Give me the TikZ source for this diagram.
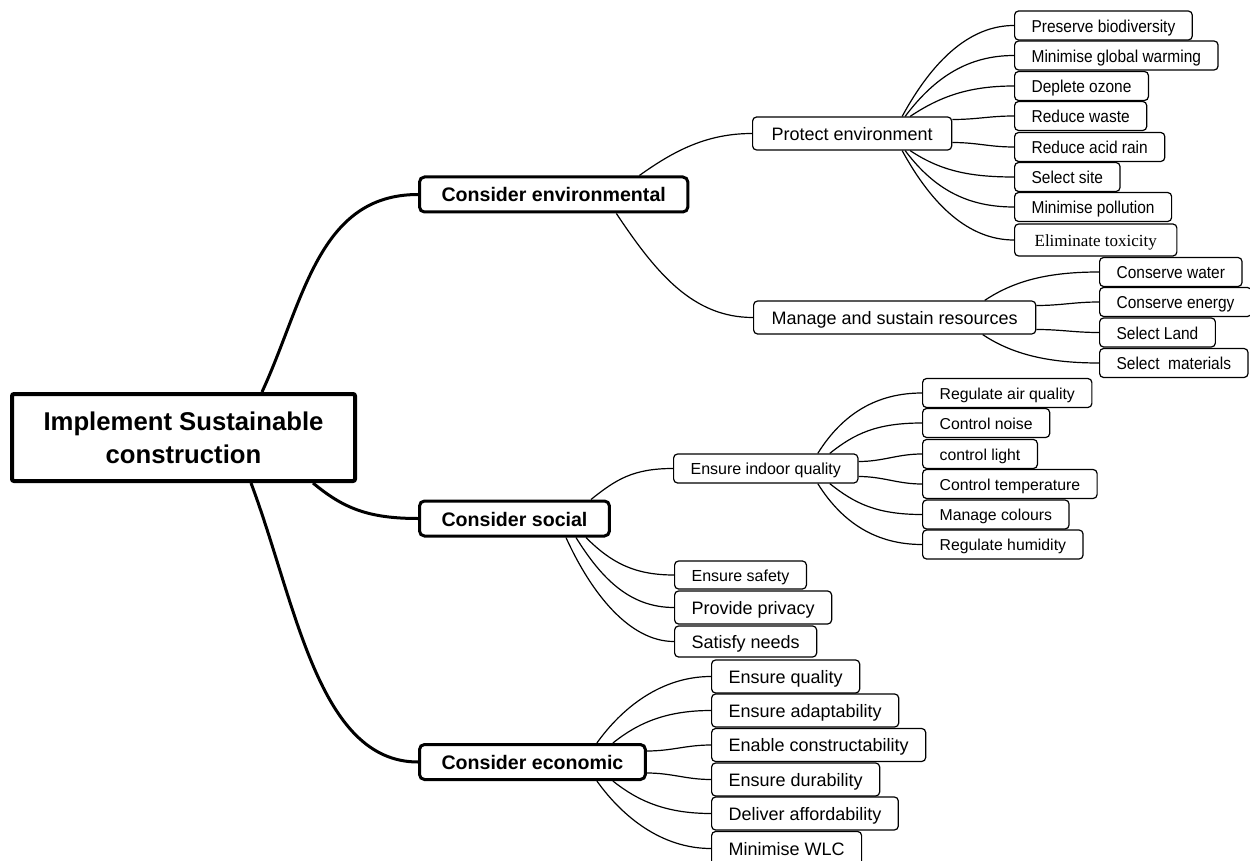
\documentclass[tikz,border=0pt]{standalone}
\usepackage{fontspec}
\setmainfont{Liberation Sans}
\newfontfamily\tnrfont{Liberation Serif}
\newfontfamily\condsans[FakeStretch=0.9]{Liberation Sans}
\usetikzlibrary{calc}
\begin{document}
\begin{tikzpicture}[x=1pt,y=-1pt,
  rootbox/.style={draw, line width=4pt, rounded corners=2pt, fill=white,
    font=\fontsize{25.7}{33}\selectfont\bfseries, align=center,
    minimum width=343pt, minimum height=87pt, inner sep=0pt},
  mainbox/.style={draw, line width=3pt, rounded corners=5pt, fill=white,
    font=\fontsize{19.6}{23}\selectfont\bfseries, anchor=west,
    minimum height=35pt, inner xsep=22pt, inner ysep=0pt,
    text height=15pt, text depth=0pt},
  subbox/.style={draw, line width=1.2pt, rounded corners=4pt, fill=white,
    anchor=west, inner xsep=17pt, inner ysep=0pt, minimum height=29pt,
    text depth=0pt},
  fa/.style={font=\condsans\fontsize{17.2}{20}\selectfont, text height=13.3pt},
  fi/.style={font=\fontsize{15.8}{19}\selectfont, text height=12.3pt},
  fb/.style={font=\fontsize{16}{19}\selectfont, text height=12.4pt},
  fc/.style={font=\fontsize{18}{21}\selectfont, text height=13.9pt},
  ft/.style={font=\tnrfont\fontsize{17}{20}\selectfont, text height=12.3pt},
  ea/.style={line width=3pt},
  eb/.style={line width=1.2pt}
]
\useasboundingbox (0,0) rectangle (1250,861);

% root and main branches
\node[rootbox] (root) at (183.5,437.5) {Implement Sustainable\\construction};
\node[mainbox] (env) at (418,194.5) {Consider environmental};
\node[mainbox] (soc) at (418,518.5) {Consider social};
\node[mainbox] (eco) at (418,762) {Consider economic};

% second level
\node[subbox, fc, minimum height=33pt, inner xsep=19pt] (pe) at (752,133.5) {Protect environment};
\node[subbox, fc, minimum height=33pt, inner xsep=18pt] (msr) at (753,317.5) {Manage and sustain resources};
\node[subbox, fb, inner xsep=17pt] (eiq) at (673,468.5) {Ensure indoor quality};

% environment leaves
\node[subbox, fa] (l1) at (1014,25.5) {Preserve biodiversity};
\node[subbox, fa] (l2) at (1014,55.5) {Minimise global warming};
\node[subbox, fa] (l3) at (1014,86) {Deplete ozone};
\node[subbox, fa] (l4) at (1014,116) {Reduce waste};
\node[subbox, fa] (l5) at (1014,147) {Reduce acid rain};
\node[subbox, fa] (l6) at (1014,177) {Select site};
\node[subbox, fa] (l7) at (1014,207) {Minimise pollution};
\node[subbox, ft, minimum height=32pt, inner xsep=20pt] (l8) at (1014,240) {Eliminate toxicity};

\node[subbox, fa] (r1) at (1099,272) {Conserve water};
\node[subbox, fa] (r2) at (1099,302) {Conserve energy};
\node[subbox, fa] (r3) at (1099,332.5) {Select Land};
\node[subbox, fa] (r4) at (1099,363) {Select\ \ materials};

% indoor leaves
\node[subbox, fi] (i1) at (922,393) {Regulate air quality};
\node[subbox, fi] (i2) at (922,423) {Control noise};
\node[subbox, fi] (i3) at (922,454) {control light};
\node[subbox, fi] (i4) at (922,484) {Control temperature};
\node[subbox, fi] (i5) at (922,514.5) {Manage colours};
\node[subbox, fi] (i6) at (922,544.5) {Regulate humidity};

% social leaves
\node[subbox, fb, minimum height=28pt] (s1) at (674,575) {Ensure safety};
\node[subbox, fc, minimum height=33pt] (s2) at (674,607.5) {Provide privacy};
\node[subbox, fc, minimum height=31pt] (s3) at (674,641.5) {Satisfy needs};

% economic leaves
\node[subbox, fc, minimum height=33pt] (c1) at (711,676.5) {Ensure quality};
\node[subbox, fc, minimum height=33pt] (c2) at (711,710.5) {Ensure adaptability};
\node[subbox, fc, minimum height=33pt] (c3) at (711,745) {Enable constructability};
\node[subbox, fc, minimum height=33pt] (c4) at (711,779.5) {Ensure durability};
\node[subbox, fc, minimum height=33pt] (c5) at (711,813.5) {Deliver affordability};
\node[subbox, fc, minimum height=34pt] (c6) at (711,848.5) {Minimise WLC};

% level 1 connectors
\draw[ea] ([xshift=78.5pt]root.north) .. controls +(42,-91) and +(-100,0) .. (env.west);
\draw[ea] ([xshift=129.5pt]root.south) .. controls +(30,25) and +(-50,0) .. (soc.west);
\draw[ea] ([xshift=67.5pt]root.south) .. controls +(45,120) and +(-100,0) .. (eco.west);

% level 2 connectors
\draw[eb] ([xshift=-50pt]env.north east) .. controls +(35,-25) and +(-45,0) .. (pe.west);
\draw[eb] ([xshift=-73pt]env.south east) .. controls +(40,60) and +(-60,0) .. (msr.west);
\draw[eb] ([xshift=-20pt]soc.north east) .. controls +(25,-20) and +(-40,0) .. (eiq.west);

% protect environment leaves
\draw[eb] ([xshift=50pt]pe.north) .. controls +(30,-55) and +(-45,0) .. (l1.west);
\draw[eb] ([xshift=53pt]pe.north) .. controls +(30,-40) and +(-45,0) .. (l2.west);
\draw[eb] ([xshift=58pt]pe.north) .. controls +(30,-20) and +(-45,0) .. (l3.west);
\draw[eb] ([yshift=14pt]pe.east) .. controls +(25,0) and +(-25,0) .. (l4.west);
\draw[eb] ([yshift=-9pt]pe.east) .. controls +(25,0) and +(-25,0) .. (l5.west);
\draw[eb] ([xshift=58pt]pe.south) .. controls +(30,20) and +(-45,0) .. (l6.west);
\draw[eb] ([xshift=53pt]pe.south) .. controls +(30,40) and +(-45,0) .. (l7.west);
\draw[eb] ([xshift=50pt]pe.south) .. controls +(30,55) and +(-45,0) .. (l8.west);

% resources leaves
\draw[eb] ([xshift=90pt]msr.north) .. controls +(30,-20) and +(-50,0) .. (r1.west);
\draw[eb] ([yshift=12pt]msr.east) .. controls +(25,0) and +(-25,0) .. (r2.west);
\draw[eb] ([yshift=-12pt]msr.east) .. controls +(25,0) and +(-25,0) .. (r3.west);
\draw[eb] ([xshift=88pt]msr.south) .. controls +(30,20) and +(-50,0) .. (r4.west);

% indoor leaves
\draw[eb] ([xshift=52pt]eiq.north) .. controls +(25,-40) and +(-45,0) .. (i1.west);
\draw[eb] ([xshift=64pt]eiq.north) .. controls +(25,-20) and +(-45,0) .. (i2.west);
\draw[eb] ([yshift=7pt]eiq.east) .. controls +(25,0) and +(-25,0) .. (i3.west);
\draw[eb] ([yshift=-8pt]eiq.east) .. controls +(25,0) and +(-25,0) .. (i4.west);
\draw[eb] ([xshift=64pt]eiq.south) .. controls +(25,20) and +(-45,0) .. (i5.west);
\draw[eb] ([xshift=52pt]eiq.south) .. controls +(25,40) and +(-45,0) .. (i6.west);

% social leaves
\draw[eb] ([xshift=-25pt]soc.south east) .. controls +(25,25) and +(-40,0) .. (s1.west);
\draw[eb] ([xshift=-35pt]soc.south east) .. controls +(25,40) and +(-45,0) .. (s2.west);
\draw[eb] ([xshift=-45pt]soc.south east) .. controls +(25,55) and +(-45,0) .. (s3.west);

% economic leaves
\draw[eb] ([xshift=-50pt]eco.north east) .. controls +(25,-35) and +(-50,0) .. (c1.west);
\draw[eb] ([xshift=-34pt]eco.north east) .. controls +(25,-20) and +(-45,0) .. (c2.west);
\draw[eb] ([yshift=11pt]eco.east) .. controls +(25,0) and +(-25,0) .. (c3.west);
\draw[eb] ([yshift=-11pt]eco.east) .. controls +(25,0) and +(-25,0) .. (c4.west);
\draw[eb] ([xshift=-34pt]eco.south east) .. controls +(25,20) and +(-45,0) .. (c5.west);
\draw[eb] ([xshift=-50pt]eco.south east) .. controls +(25,35) and +(-50,0) .. (c6.west);
\end{tikzpicture}
\end{document}
